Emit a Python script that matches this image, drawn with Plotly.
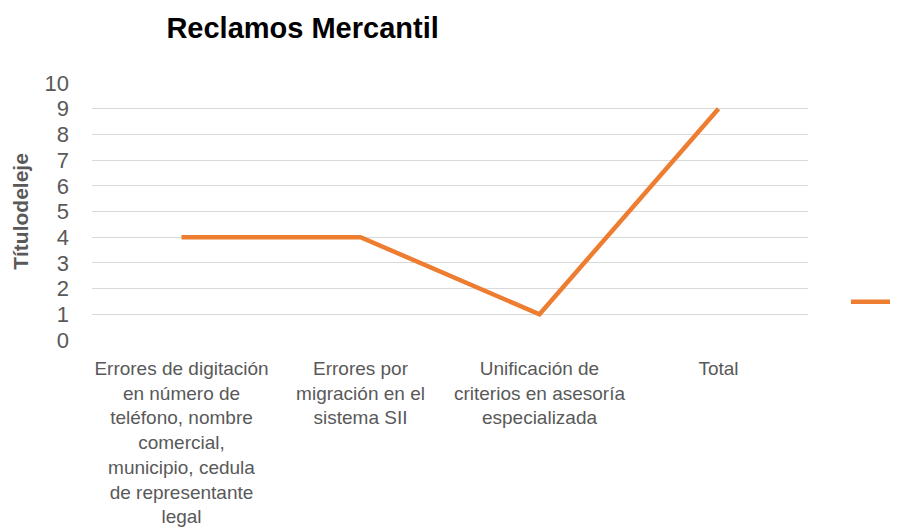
import plotly.graph_objects as go

categories = [
    "Errores de digitación<br>en número de<br>teléfono, nombre<br>comercial,<br>municipio, cedula<br>de representante<br>legal",
    "Errores por<br>migración en el<br>sistema SII",
    "Unificación de<br>criterios en asesoría<br>especializada",
    "Total",
]
values = [4, 4, 1, 9]
series_name = "Serie1"
y_ticks = list(range(0, 11))

fig = go.Figure()
fig.add_trace(go.Scatter(
    x=categories, y=values, mode="lines", name=series_name,
    line=dict(color="#ED7D31", width=4.5),
))

fig.update_layout(
    width=890, height=523,
    margin=dict(l=84, r=90, t=75, b=191, autoexpand=False),
    paper_bgcolor="white", plot_bgcolor="white",
    font=dict(family="Liberation Sans, Arial, sans-serif", color="#595959"),
    title=dict(text="<b>Reclamos Mercantil</b>", x=0.331, xanchor="center",
               y=0.962, yanchor="middle",
               font=dict(size=29, color="black", family="Liberation Sans, Arial, sans-serif")),
    showlegend=True,
    legend=dict(x=1.053, xanchor="left", y=0.148, yanchor="middle", itemwidth=60,
                font=dict(size=18, color="#595959"), bgcolor="rgba(0,0,0,0)"),
    xaxis=dict(
        range=[-0.5, 3.5],
        showgrid=False, showline=False, ticks="",
        tickfont=dict(size=19, color="#595959"),
        tickangle=0, ticklabelstandoff=15,
    ),
    yaxis=dict(
        range=[0, 10], tickvals=y_ticks, ticktext=[str(v) for v in y_ticks],
        showgrid=True, gridcolor="#D9D9D9", gridwidth=1.3,
        zeroline=False, showline=False, ticks="",
        tickfont=dict(size=22, color="#595959"),
        ticklabelstandoff=22,
        title=dict(text="<b>Títulodeleje</b>", font=dict(size=21, color="#595959"), standoff=10),
    ),
)

fig.write_html("out.html")
